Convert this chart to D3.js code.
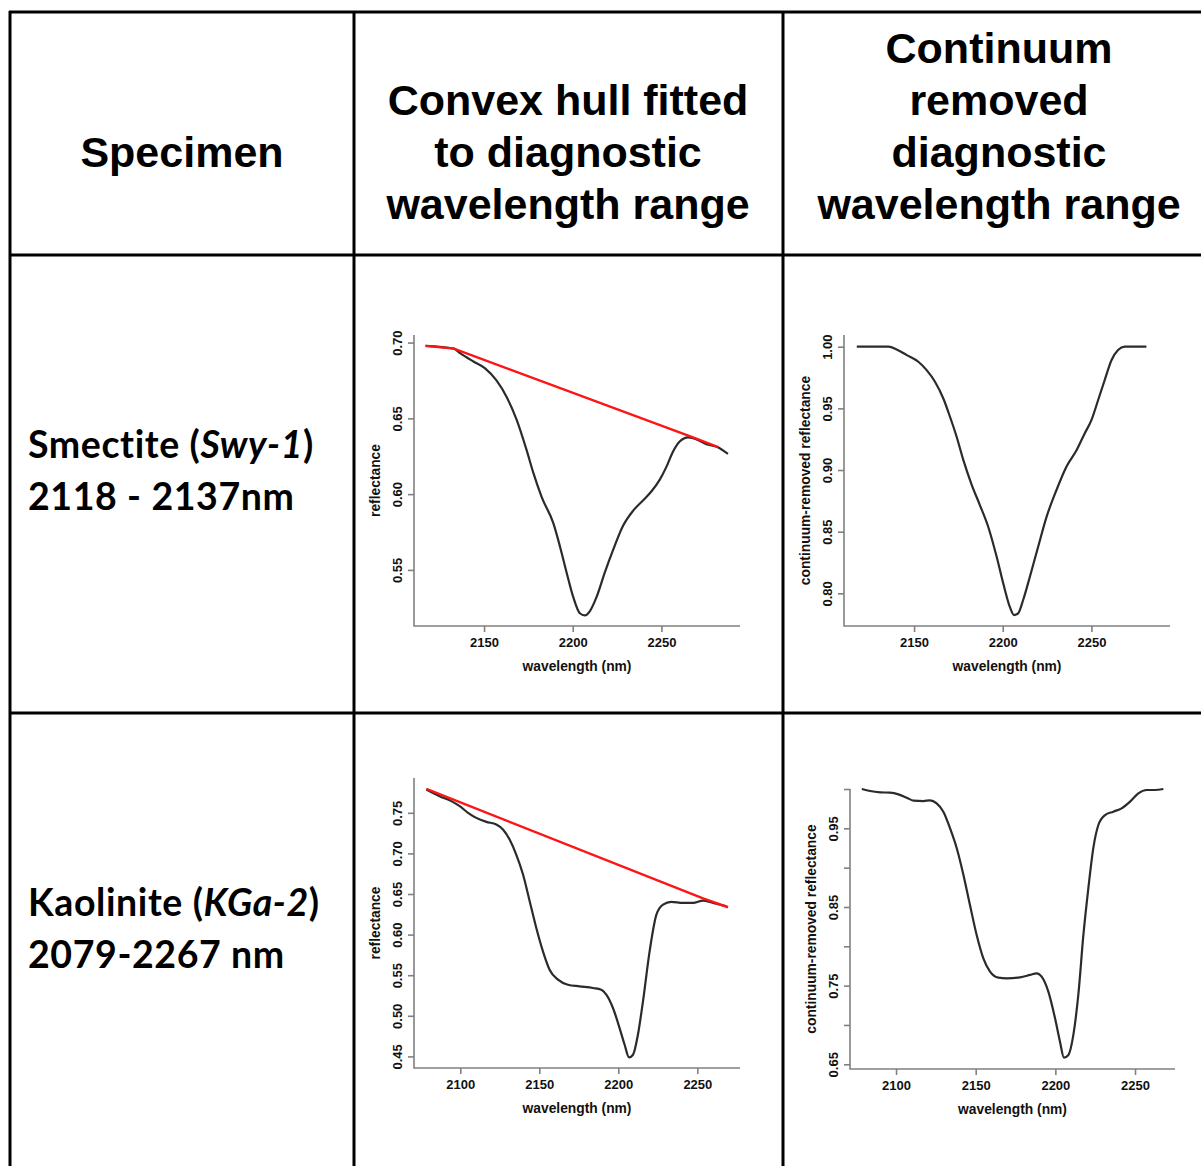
<!DOCTYPE html>
<html>
<head>
<meta charset="utf-8">
<script src="https://cdn.jsdelivr.net/npm/d3@7"></script>
<style>
  body { margin: 0; background: #fff; }
  svg { display: block; }
  .head { font-family: "Liberation Sans", Arial, sans-serif; font-weight: bold; font-size: 43px; fill: #000; }
  .spec { font-family: Lato, "Open Sans", sans-serif; font-weight: bold; font-size: 37.5px; letter-spacing: 0.6px; fill: #000; }
  .tick text { font-family: "Liberation Sans", Arial, sans-serif; font-weight: bold; font-size: 13px; fill: #111; }
  .axlab { font-family: "Liberation Sans", Arial, sans-serif; font-weight: bold; font-size: 13.8px; fill: #111; }
</style>
</head>
<body>
<svg id="fig" width="1201" height="1166"></svg>
<script>
// ---- data ----
var headers = [
    ["Specimen"],
    ["Convex hull fitted", "to diagnostic", "wavelength range"],
    ["Continuum", "removed", "diagnostic", "wavelength range"]
];

// smectite (Swy-1) reflectance
var swyWave = [2117, 2133, 2136.5, 2144, 2150.6, 2157, 2162.8, 2168.4, 2174, 2177.8, 2182.5, 2189, 2192.9,
    2196.6, 2200.3, 2204, 2206.8, 2209.6, 2213.4, 2218, 2222.7, 2228.3, 2234, 2239.6, 2244.3, 2249, 2252.8,
    2256.5, 2260.3, 2265, 2267.8, 2275.3, 2281.8, 2287.5];
var swyRefl = [0.6978, 0.696, 0.693, 0.6875, 0.683, 0.675, 0.664, 0.649, 0.629, 0.614, 0.598, 0.581, 0.565,
    0.548, 0.532, 0.5214, 0.520, 0.5227, 0.532, 0.548, 0.563, 0.579, 0.589, 0.5958, 0.6017, 0.6094, 0.618,
    0.628, 0.6347, 0.6375, 0.637, 0.633, 0.631, 0.6266];
var swyHullWave = [2117, 2133, 2267.8, 2282];
var swyHullRefl = [0.6978, 0.696, 0.6375, 0.631];

// smectite continuum removed
var swyCrWave = [2117.7, 2135.6, 2140.2, 2145.9, 2152.4, 2157.1, 2161.8, 2166.5, 2170.3, 2174, 2177.8, 2182.5,
    2187.1, 2191.8, 2196.5, 2200.3, 2204, 2206.3, 2208.7, 2211.5, 2215.3, 2220, 2224.7, 2230.3, 2235.9, 2241.6,
    2246.2, 2250, 2253.8, 2257.5, 2261.3, 2265, 2268.8, 2281];
var swyCr = [1.0, 1.0, 0.9978, 0.9932, 0.9878, 0.981, 0.9716, 0.958, 0.943, 0.927, 0.908, 0.888,
    0.8716, 0.854, 0.83, 0.808, 0.789, 0.7824, 0.7838, 0.7946, 0.8135, 0.838, 0.862, 0.8838, 0.9027, 0.916,
    0.9297, 0.9405, 0.9568, 0.973, 0.989, 0.9973, 1.0, 1.0];

// kaolinite (KGa-2) reflectance
var kgaWave = [2078.5, 2086.9, 2094.3, 2099.6, 2104.9, 2110.1, 2116.5, 2122.8, 2127, 2131.2, 2135.4, 2139.7,
    2143.9, 2148.1, 2152.3, 2156.5, 2161.8, 2168.1, 2175.5, 2184, 2189.2, 2192.4, 2196.6, 2200.8, 2204, 2206.8,
    2209.3, 2212.4, 2215.6, 2219.8, 2224.1, 2228.3, 2233.5, 2240.9, 2247.3, 2253.6, 2259.9, 2268.4];
var kgaRefl = [0.7788, 0.7705, 0.7644, 0.7582, 0.75, 0.7438, 0.7389, 0.7356, 0.7295, 0.7171, 0.6986, 0.674,
    0.6411, 0.6082, 0.5794, 0.5568, 0.5445, 0.5383, 0.5363, 0.5342, 0.5322, 0.526, 0.5096, 0.4849, 0.4643, 0.4487,
    0.452, 0.4767, 0.5178, 0.5794, 0.6246, 0.637, 0.6403, 0.639, 0.639, 0.6419, 0.639, 0.6349];
var kgaHullWave = [2078.5, 2253.6, 2269.4];
var kgaHullRefl = [0.7796, 0.6445, 0.6337];

// kaolinite continuum removed
var kgaCrWave = [2078.5, 2083.7, 2090, 2096.2, 2101.5, 2106.7, 2110.9, 2117.2, 2121.3, 2125.5, 2129.7, 2133.9,
    2138.1, 2142.3, 2146.4, 2150.6, 2154.8, 2159, 2164.2, 2169.5, 2177.8, 2184.1, 2188.3, 2191.4, 2195.6, 2199.8,
    2202.9, 2205.4, 2208.2, 2211.3, 2214.4, 2217.6, 2220.7, 2223.8, 2227, 2231.2, 2236.4, 2241.6, 2246.9, 2252.1,
    2257.3, 2262.5, 2267.8];
var kgaCr = [1.0, 0.9975, 0.9958, 0.9953, 0.9932, 0.989, 0.9852, 0.9847, 0.9856, 0.9818, 0.9712, 0.95,
    0.9246, 0.8907, 0.8525, 0.8144, 0.7847, 0.7678, 0.7602, 0.7593, 0.7606, 0.7636, 0.7657, 0.7614, 0.7424, 0.7085,
    0.6788, 0.6585, 0.6619, 0.6873, 0.7381, 0.8144, 0.8737, 0.9246, 0.9542, 0.9669, 0.9712, 0.9754, 0.9839, 0.9945,
    0.9987, 0.9987, 1.0];

// axis ticks
var swyXTicks = [2150, 2200, 2250];
var kgaXTicks = [2100, 2150, 2200, 2250];
var swyReflTicks = [0.55, 0.60, 0.65, 0.70];
var swyCrTicks = [0.80, 0.85, 0.90, 0.95, 1.00];
var kgaReflTicks = [0.45, 0.50, 0.55, 0.60, 0.65, 0.70, 0.75];
var kgaCrTicks = [0.65, 0.70, 0.75, 0.80, 0.85, 0.90, 0.95, 1.00];
var kgaCrTickLabels = [0.65, 0.75, 0.85, 0.95];

var specimens = [
    { name: "Smectite (", code: "Swy-1", range: "2118 - 2137nm" },
    { name: "Kaolinite (", code: "KGa-2", range: "2079-2267 nm" }
];

var svg = d3.select("#fig");

// ---- table grid ----
var grid = svg.append("g").attr("stroke", "#000").attr("stroke-width", 3);
[12, 255, 713].forEach(function(y) {
    grid.append("line").attr("x1", 9).attr("x2", 1201).attr("y1", y).attr("y2", y);
});
[10, 354, 783].forEach(function(x) {
    grid.append("line").attr("x1", x).attr("x2", x).attr("y1", 11).attr("y2", 1166);
});

// header text
var colCenters = [182, 568, 999];
var headTops = [167, 115, 63];
headers.forEach(function(lines, i) {
    var t = svg.append("text").attr("class", "head").attr("text-anchor", "middle");
    lines.forEach(function(l, j) {
        t.append("tspan").attr("x", colCenters[i]).attr("y", headTops[i] + j * 52).text(l);
    });
});

// specimen labels
var specY = [458, 916];
specimens.forEach(function(s, i) {
    var t = svg.append("text").attr("class", "spec").attr("x", 28).attr("y", specY[i]);
    t.append("tspan").text(s.name);
    t.append("tspan").attr("font-style", "italic").text(s.code);
    t.append("tspan").text(")");
    svg.append("text").attr("class", "spec").attr("x", 28).attr("y", specY[i] + 52).text(s.range);
});

// ---- panels ----
function zip(a, b) { return a.map(function(d, i) { return [d, b[i]]; }); }

function drawPanel(p)
{
    var g = svg.append("g").attr("transform", `translate(${p.left}, ${p.top})`);

    var x = d3.scaleLinear().domain(p.xDomain).range([0, p.width]);
    var y = d3.scaleLinear().domain(p.yDomain).range([p.height, 0]);

    var xAxis = d3.axisBottom(x).tickValues(p.xTicks).tickSize(6).tickSizeOuter(0)
        .tickFormat(d3.format("d"));
    var yAxis = d3.axisLeft(y).tickValues(p.yTicks).tickSize(6).tickSizeOuter(0)
        .tickFormat(function(d) {
            if (p.yLabelled && p.yLabelled.indexOf(d) < 0) return "";
            return d3.format(".2f")(d);
        });

    var gx = g.append("g").attr("transform", `translate(0, ${p.height})`).call(xAxis);
    var gy = g.append("g").call(yAxis);

    [gx, gy].forEach(function(a) {
        a.select(".domain").remove();
        a.selectAll(".tick line").attr("stroke", "#808080").attr("stroke-width", 1.6);
    });
    gx.selectAll(".tick text").attr("y", 16.5).attr("dy", "0.35em");
    gy.selectAll(".tick text")
        .attr("transform", "rotate(-90)")
        .attr("x", 0).attr("y", -17).attr("dy", "0.35em")
        .attr("text-anchor", "middle");

    // L shaped box like R's bty = "l"
    g.append("path")
        .attr("d", `M0,0V${p.height}H${p.width}`)
        .attr("fill", "none").attr("stroke", "#808080").attr("stroke-width", 1.6);

    g.append("text").attr("class", "axlab")
        .attr("x", p.width / 2).attr("y", p.height + 40).attr("dy", "0.35em")
        .attr("text-anchor", "middle").text("wavelength (nm)");
    g.append("text").attr("class", "axlab")
        .attr("transform", `translate(${-39}, ${p.height / 2}) rotate(-90)`)
        .attr("dy", "0.35em").attr("text-anchor", "middle").text(p.yTitle);

    var line = d3.line().x(d => x(d[0])).y(d => y(d[1])).curve(d3.curveMonotoneX);

    g.append("path").datum(p.series)
        .attr("d", line).attr("fill", "none").attr("stroke", "#2b2b2b").attr("stroke-width", 2.2);

    if (p.hull) {
        g.append("path").datum(p.hull)
            .attr("d", d3.line().x(d => x(d[0])).y(d => y(d[1])))
            .attr("fill", "none").attr("stroke", "#ff1414").attr("stroke-width", 2.4);
    }
}

drawPanel({
    left: 414, top: 335, width: 326, height: 291,
    xDomain: [2110.5, 2294.3], yDomain: [0.513, 0.705],
    xTicks: swyXTicks, yTicks: swyReflTicks, yTitle: "reflectance",
    series: zip(swyWave, swyRefl), hull: zip(swyHullWave, swyHullRefl)
});
drawPanel({
    left: 844, top: 335, width: 326, height: 291,
    xDomain: [2110.5, 2294.3], yDomain: [0.7735, 1.0095],
    xTicks: swyXTicks, yTicks: swyCrTicks, yTitle: "continuum-removed reflectance",
    series: zip(swyCrWave, swyCr)
});
drawPanel({
    left: 414, top: 778, width: 326, height: 290,
    xDomain: [2070.7, 2277], yDomain: [0.4357, 0.7929],
    xTicks: kgaXTicks, yTicks: kgaReflTicks, yTitle: "reflectance",
    series: zip(kgaWave, kgaRefl), hull: zip(kgaHullWave, kgaHullRefl)
});
drawPanel({
    left: 850, top: 789, width: 325, height: 280,
    xDomain: [2071.1, 2275.1], yDomain: [0.644, 1.0],
    xTicks: kgaXTicks, yTicks: kgaCrTicks, yLabelled: kgaCrTickLabels,
    yTitle: "continuum-removed reflectance",
    series: zip(kgaCrWave, kgaCr)
});
</script>
</body>
</html>
